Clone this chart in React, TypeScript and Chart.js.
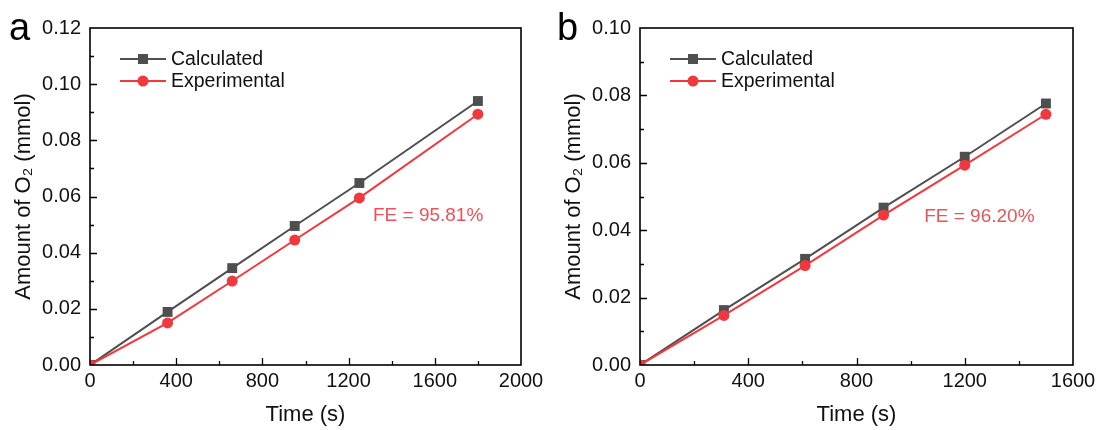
import React, { useEffect, useRef } from "react";
import { Chart, registerables } from "chart.js";

Chart.register(...registerables);

// ---------- Data ----------
const timeA = [0, 360, 660, 950, 1250, 1800];
const calculatedA = [0, 0.0189, 0.0345, 0.0495, 0.0648, 0.094];
const experimentalA = [0, 0.015, 0.0299, 0.0445, 0.0595, 0.0893];

const timeB = [0, 310, 610, 900, 1200, 1500];
const calculatedB = [0, 0.0163, 0.0315, 0.0467, 0.0618, 0.0776];
const experimentalB = [0, 0.0147, 0.0295, 0.0445, 0.0593, 0.0744];

const seriesNames = ["Calculated", "Experimental"];
const panelLetters = ["a", "b"];
const feLabels = ["FE = 95.81%", "FE = 96.20%"];
const feAnchorA = { x: 1313, y: 0.0531 };
const feAnchorB = { x: 1050, y: 0.0439 };

const xTitle = "Time (s)";
const yTitle = "Amount of O\u2082 (mmol)";

// ---------- Styles ----------
const FONT = "'Liberation Sans', Arial, Helvetica, sans-serif";
const GRAY = "#4f4f4f";
const RED = "#f0383e";
const FE_RED = "#e9545b";

type PanelCfg = {
  letter: string;
  times: number[];
  calc: number[];
  exp: number[];
  xMax: number;
  yMax: number;
  fe: string;
  feAnchor: { x: number; y: number };
  padRight: number;
};

const panels: PanelCfg[] = [
  {
    letter: panelLetters[0],
    times: timeA,
    calc: calculatedA,
    exp: experimentalA,
    xMax: 2000,
    yMax: 0.12,
    fe: feLabels[0],
    feAnchor: feAnchorA,
    padRight: 29,
  },
  {
    letter: panelLetters[1],
    times: timeB,
    calc: calculatedB,
    exp: experimentalB,
    xMax: 1600,
    yMax: 0.1,
    fe: feLabels[1],
    feAnchor: feAnchorB,
    padRight: 27,
  },
];

function makeDecorPlugin(p: PanelCfg) {
  return {
    id: "decor" + p.letter,
    afterDatasetsDraw(chart: any) {
      const ctx = chart.ctx as CanvasRenderingContext2D;
      const area = chart.chartArea;
      const xs = chart.scales.x;
      const ys = chart.scales.y;
      ctx.save();
      // frame
      ctx.strokeStyle = "#000";
      ctx.lineWidth = 1.6;
      ctx.strokeRect(area.left, area.top, area.right - area.left, area.bottom - area.top);
      // ticks (inward)
      ctx.lineWidth = 1.3;
      ctx.beginPath();
      for (let v = 0; v <= p.xMax + 1e-9; v += 200) {
        const px = Math.round(xs.getPixelForValue(v)) + 0.5;
        const major = Math.round(v) % 400 === 0;
        const len = major ? 7 : 4;
        if (v === 0 || v >= p.xMax) continue;
        ctx.moveTo(px, area.bottom);
        ctx.lineTo(px, area.bottom - len);
      }
      const nY = Math.round(p.yMax / 0.01);
      for (let i = 1; i < nY; i++) {
        const py = Math.round(ys.getPixelForValue(i * 0.01)) + 0.5;
        const len = i % 2 === 0 ? 7 : 4;
        ctx.moveTo(area.left, py);
        ctx.lineTo(area.left + len, py);
      }
      ctx.stroke();

      // FE annotation
      ctx.fillStyle = FE_RED;
      ctx.font = `19px ${FONT}`;
      ctx.textAlign = "left";
      ctx.textBaseline = "middle";
      ctx.fillText(p.fe, xs.getPixelForValue(p.feAnchor.x), ys.getPixelForValue(p.feAnchor.y));

      // legend
      const lx0 = area.left + 30;
      const lx1 = area.left + 76;
      const mx = area.left + 53;
      const rows = [59, 81];
      chart.data.datasets.forEach((ds: any, i: number) => {
        const y = rows[i];
        ctx.strokeStyle = ds.borderColor;
        ctx.lineWidth = 2;
        ctx.beginPath();
        ctx.moveTo(lx0, y);
        ctx.lineTo(lx1, y);
        ctx.stroke();
        ctx.fillStyle = ds.pointBackgroundColor;
        if (ds.pointStyle === "rect") {
          ctx.fillRect(mx - 5, y - 5, 10, 10);
        } else {
          ctx.beginPath();
          ctx.arc(mx, y, 5.5, 0, Math.PI * 2);
          ctx.fill();
        }
        ctx.fillStyle = "#111";
        ctx.font = `19.5px ${FONT}`;
        ctx.textAlign = "left";
        ctx.textBaseline = "middle";
        ctx.fillText(ds.label, area.left + 81, y + 1);
      });

      // panel letter
      ctx.fillStyle = "#000";
      ctx.font = `38px ${FONT}`;
      ctx.textAlign = "left";
      ctx.textBaseline = "alphabetic";
      ctx.fillText(p.letter, p.letter === "a" ? 9 : 7, 40);
      ctx.restore();
    },
  };
}

function Panel({ p }: { p: PanelCfg }) {
  const ref = useRef<HTMLCanvasElement | null>(null);
  useEffect(() => {
    if (!ref.current) return;
    const chart = new Chart(ref.current, {
      type: "line",
      data: {
        labels: p.times,
        datasets: [
          {
            label: seriesNames[0],
            data: p.times.map((t, i) => ({ x: t, y: p.calc[i] })),
            borderColor: GRAY,
            backgroundColor: GRAY,
            pointBackgroundColor: GRAY,
            pointBorderColor: GRAY,
            pointBorderWidth: 0,
            pointStyle: "rect",
            pointRadius: 7,
            borderWidth: 2,
            order: 2,
            clip: 0,
          } as any,
          {
            label: seriesNames[1],
            data: p.times.map((t, i) => ({ x: t, y: p.exp[i] })),
            borderColor: RED,
            backgroundColor: RED,
            pointBackgroundColor: RED,
            pointBorderColor: RED,
            pointBorderWidth: 0,
            pointStyle: "circle",
            pointRadius: 5.5,
            borderWidth: 2,
            order: 1,
            clip: 0,
          } as any,
        ],
      },
      options: {
        animation: false,
        responsive: false,
        events: [],
        layout: { padding: { left: 0, top: 28, right: p.padRight, bottom: 0 } },
        plugins: { legend: { display: false }, tooltip: { enabled: false } },
        scales: {
          x: {
            type: "linear",
            min: 0,
            max: p.xMax,
            grid: { display: false, drawTicks: false },
            border: { display: false },
            ticks: {
              stepSize: 400,
              padding: 4,
              color: "#111",
              font: { family: FONT, size: 20 },
              maxRotation: 0,
              autoSkip: false,
              callback: (v: any) => String(v),
            },
            title: {
              display: true,
              text: xTitle,
              color: "#111",
              font: { family: FONT, size: 22 },
              padding: { top: 0, bottom: 2 },
            },
            afterFit: (s: any) => {
              s.height = 65;
            },
          },
          y: {
            type: "linear",
            min: 0,
            max: p.yMax,
            grid: { display: false, drawTicks: false },
            border: { display: false },
            ticks: {
              stepSize: 0.02,
              padding: 9,
              color: "#111",
              font: { family: FONT, size: 20 },
              autoSkip: false,
              callback: (v: any) => Number(v).toFixed(2),
            },
            title: {
              display: true,
              text: yTitle,
              color: "#111",
              font: { family: FONT, size: 22 },
              padding: { top: 11, bottom: 0 },
            },
            afterFit: (s: any) => {
              s.width = 90;
            },
          },
        },
      } as any,
      plugins: [makeDecorPlugin(p)],
    });
    return () => chart.destroy();
  }, [p]);
  return <canvas ref={ref} width={550} height={430} style={{ display: "block", width: 550, height: 430 }} />;
}

export default function App() {
  return (
    <div
      style={{
        position: "absolute",
        left: 0,
        top: 0,
        width: 1100,
        height: 430,
        display: "flex",
        background: "#fff",
      }}
    >
      {panels.map((p) => (
        <Panel key={p.letter} p={p} />
      ))}
    </div>
  );
}
